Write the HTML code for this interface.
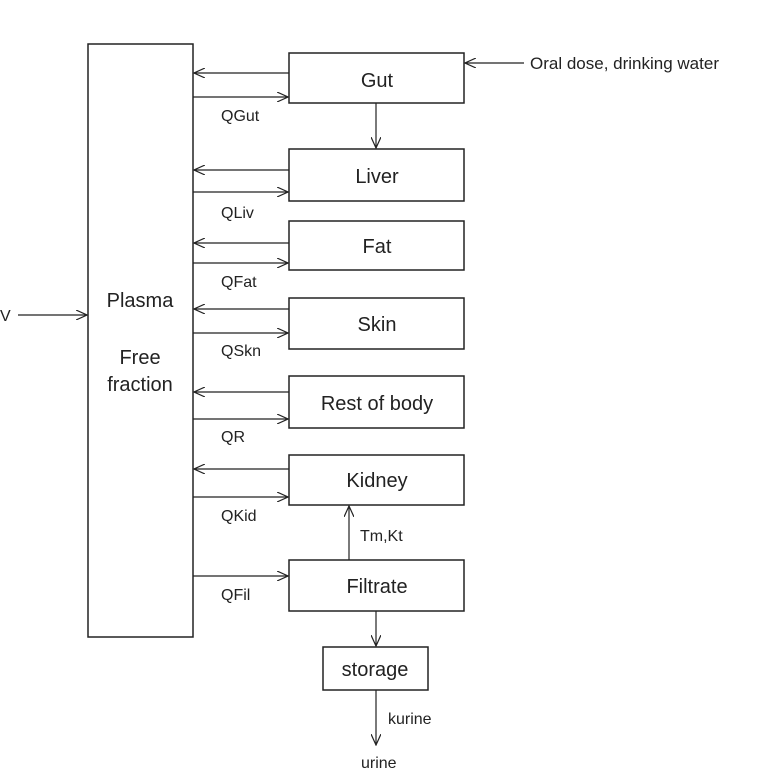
<!DOCTYPE html>
<html><head><style>body{margin:0;background:#fff}svg{display:block}</style></head><body>
<svg width="771" height="779" xmlns="http://www.w3.org/2000/svg" font-family="Liberation Sans, Arial, sans-serif" fill="#222">
<defs><marker id="a" markerWidth="12" markerHeight="10" refX="11" refY="5" orient="auto" markerUnits="userSpaceOnUse"><path d="M0,0 L11,5 L0,10" fill="none" stroke="#222" stroke-width="1.2"/></marker></defs>
<g fill="none" stroke="#222" stroke-width="1.5">
<rect x="88" y="44" width="105" height="593"/>
<rect x="289" y="53" width="175" height="50"/>
<rect x="289" y="149" width="175" height="52"/>
<rect x="289" y="221" width="175" height="49"/>
<rect x="289" y="298" width="175" height="51"/>
<rect x="289" y="376" width="175" height="52"/>
<rect x="289" y="455" width="175" height="50"/>
<rect x="289" y="560" width="175" height="51"/>
<rect x="323" y="647" width="105" height="43"/>
</g>
<g stroke="#222" stroke-width="1.2" marker-end="url(#a)">
<line x1="289" y1="73" x2="194" y2="73"/><line x1="193" y1="97" x2="288" y2="97"/>
<line x1="289" y1="170" x2="194" y2="170"/><line x1="193" y1="192" x2="288" y2="192"/>
<line x1="289" y1="243" x2="194" y2="243"/><line x1="193" y1="263" x2="288" y2="263"/>
<line x1="289" y1="309" x2="194" y2="309"/><line x1="193" y1="333" x2="288" y2="333"/>
<line x1="289" y1="392" x2="194" y2="392"/><line x1="193" y1="419" x2="288" y2="419"/>
<line x1="289" y1="469" x2="194" y2="469"/><line x1="193" y1="497" x2="288" y2="497"/>
<line x1="193" y1="576" x2="288" y2="576"/>
<line x1="524" y1="63" x2="465" y2="63"/>
<line x1="18" y1="315" x2="87" y2="315"/>
<line x1="376" y1="103" x2="376" y2="148"/>
<line x1="349" y1="560" x2="349" y2="506"/>
<line x1="376" y1="611" x2="376" y2="646"/>
<line x1="376" y1="690" x2="376" y2="745"/>
</g>
<g font-size="20" text-anchor="middle">
<text x="377" y="87">Gut</text><text x="377" y="183">Liver</text><text x="377" y="253">Fat</text>
<text x="377" y="331">Skin</text><text x="377" y="410">Rest of body</text><text x="377" y="487">Kidney</text>
<text x="377" y="593">Filtrate</text><text x="375" y="676">storage</text>
<text x="140" y="307">Plasma</text><text x="140" y="364">Free</text><text x="140" y="391">fraction</text>
</g>
<g font-size="16">
<text x="221" y="121">QGut</text><text x="221" y="218">QLiv</text><text x="221" y="287">QFat</text>
<text x="221" y="356">QSkn</text><text x="221" y="442">QR</text><text x="221" y="521">QKid</text>
<text x="221" y="600">QFil</text><text x="360" y="541">Tm,Kt</text><text x="388" y="724">kurine</text>
<text x="361" y="768">urine</text><text x="0" y="321">V</text>
<text x="530" y="69" font-size="17">Oral dose, drinking water</text>
</g>
</svg>
</body></html>
